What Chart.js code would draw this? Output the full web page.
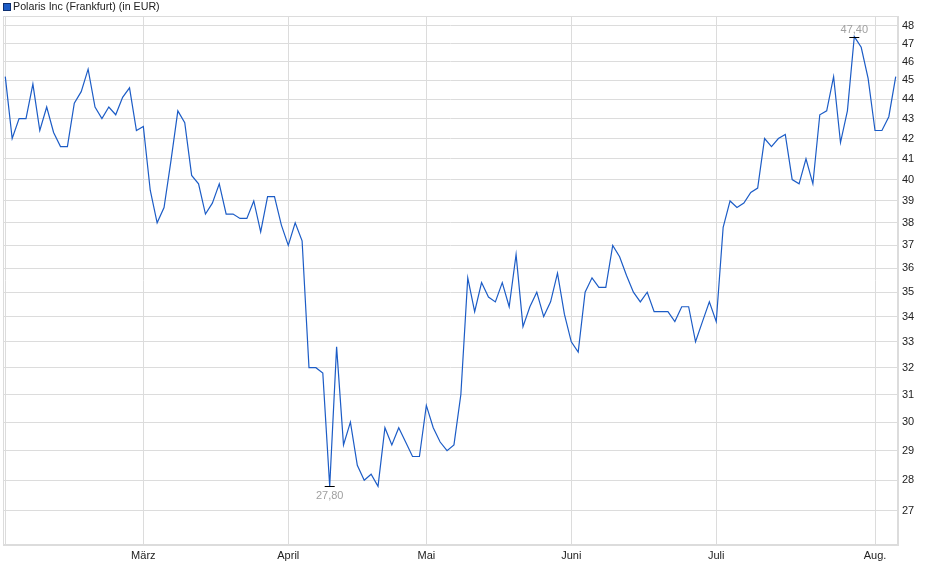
<!DOCTYPE html>
<html>
<head>
<meta charset="utf-8">
<script src="https://cdn.jsdelivr.net/npm/chart.js@4"></script>
<style>
	body { margin: 0; background: #fff; }
	canvas { display: block; }
</style>
</head>
<body>
<canvas id="chart" width="940" height="579"></canvas>
<script>
const seriesName = 'Polaris Inc (Frankfurt) (in EUR)';
const monthNames = ['', 'März', 'April', 'Mai', 'Juni', 'Juli', 'Aug.'];
const tradingDays = [20, 21, 20, 21, 21, 23, 4];
const priceTicks = [27, 28, 29, 30, 31, 32, 33, 34, 35, 36, 37, 38, 39, 40, 41, 42, 43, 44, 45, 46, 47, 48];
const prices = [
	45.2, 42.0, 43.0, 43.0, 44.8, 42.4, 43.6, 42.3, 41.6, 41.6,
	43.8, 44.4, 45.6, 43.6, 43.0, 43.6, 43.2, 44.1, 44.6, 42.4,
	42.6, 39.5, 38.0, 38.7, 40.9, 43.4, 42.8, 40.2, 39.8, 38.4,
	38.9, 39.8, 38.4, 38.4, 38.2, 38.2, 39.0, 37.6, 39.2, 39.2,
	37.9, 37.0, 38.0, 37.2, 32.0, 32.0, 31.8, 27.8, 32.8, 29.2,
	30.0, 28.5, 28.0, 28.2, 27.8, 29.8, 29.2, 29.8, 29.3, 28.8,
	28.8, 30.6, 29.8, 29.3, 29.0, 29.2, 31.0, 35.6, 34.2, 35.4,
	34.8, 34.6, 35.4, 34.4, 36.6, 33.6, 34.4, 35.0, 34.0, 34.6,
	35.8, 34.1, 33.0, 32.6, 35.0, 35.6, 35.2, 35.2, 37.0, 36.5,
	35.7, 35.0, 34.6, 35.0, 34.2, 34.2, 34.2, 33.8, 34.4, 34.4,
	33.0, 33.8, 34.6, 33.8, 37.8, 39.0, 38.7, 38.9, 39.4, 39.6,
	42.0, 41.6, 42.0, 42.2, 40.0, 39.8, 41.0, 39.8, 43.2, 43.4,
	45.2, 41.8, 43.4, 47.4, 46.8, 45.1, 42.4, 42.4, 43.1, 45.2
];

// first trading day of each month -> index on the x axis
const monthStarts = [];
tradingDays.reduce((start, n) => { monthStarts.push(start); return start + n; }, 0);

const lineColor = '#1c5cc6';
const gridColor = '#dcdcdc';
const fontFamily = '"Liberation Sans", Arial, sans-serif';

const fmt = v => v.toFixed(2).replace('.', ',');

const extras = {
	id: 'extras',
	beforeDatasetsDraw(chart) {
		const { ctx, chartArea: a } = chart;
		ctx.save();
		ctx.strokeStyle = gridColor;
		ctx.lineWidth = 1;
		ctx.strokeRect(a.left + 0.5, a.top + 0.5, a.width - 1, a.height - 1);
		ctx.restore();
	},
	afterDatasetsDraw(chart) {
		const { ctx, scales } = chart;
		const hi = prices.indexOf(Math.max(...prices));
		const lo = prices.indexOf(Math.min(...prices));
		ctx.save();
		ctx.font = '11px ' + fontFamily;
		ctx.textAlign = 'center';
		[[hi, true], [lo, false]].forEach(([i, top]) => {
			const x = scales.x.getPixelForValue(i);
			const y = Math.round(scales.y.getPixelForValue(prices[i])) + 0.5;
			ctx.strokeStyle = '#000';
			ctx.lineWidth = 1;
			ctx.beginPath();
			ctx.moveTo(x - 5, y);
			ctx.lineTo(x + 5, y);
			ctx.stroke();
			ctx.fillStyle = '#a0a0a0';
			ctx.textBaseline = top ? 'bottom' : 'top';
			ctx.fillText(fmt(prices[i]), x, top ? y - 2 : y + 4);
		});
		ctx.restore();
	},
	afterDraw(chart) {
		const { ctx } = chart;
		ctx.save();
		ctx.fillStyle = lineColor;
		ctx.fillRect(3, 3, 8, 8);
		ctx.strokeStyle = '#0d2f70';
		ctx.lineWidth = 1;
		ctx.strokeRect(3.5, 3.5, 7, 7);
		ctx.fillStyle = '#222';
		ctx.font = '10.7px ' + fontFamily;
		ctx.textBaseline = 'middle';
		ctx.textAlign = 'left';
		ctx.fillText(seriesName, 13, 7);
		ctx.restore();
	}
};

const data = {
	datasets: [{
		label: seriesName,
		data: prices.map((p, i) => ({ x: i, y: p })),
		borderColor: lineColor,
		borderWidth: 1.2,
		pointRadius: 0,
		tension: 0,
		fill: false
	}]
};

const config = {
	type: 'line',
	data,
	options: {
		responsive: false,
		devicePixelRatio: 1,
		animation: false,
		events: [],
		layout: { padding: { left: 3, right: 0, top: 16, bottom: 0 } },
		plugins: {
			legend: { display: false },
			tooltip: { enabled: false }
		},
		scales: {
			x: {
				type: 'linear',
				min: -0.33,
				max: prices.length - 1 + 0.33,
				afterBuildTicks: scale => {
					scale.ticks = monthStarts.map(v => ({ value: v }));
				},
				afterFit: scale => { scale.height = 34; },
				grid: { color: gridColor, drawTicks: false },
				border: { color: gridColor },
				ticks: {
					autoSkip: false,
					maxRotation: 0,
					padding: 4,
					color: '#222',
					font: { family: fontFamily, size: 11 },
					callback: value => monthNames[monthStarts.indexOf(value)]
				}
			},
			y: {
				type: 'logarithmic',
				position: 'right',
				min: 25.93,
				max: 48.57,
				afterBuildTicks: scale => {
					scale.ticks = priceTicks.map(v => ({ value: v }));
				},
				afterFit: scale => { scale.width = 42; },
				grid: { color: gridColor, drawTicks: false },
				border: { color: gridColor },
				ticks: {
					padding: 4,
					color: '#222',
					font: { family: fontFamily, size: 11 },
					callback: value => String(value)
				}
			}
		}
	},
	plugins: [extras]
};

new Chart(document.getElementById('chart'), config);
</script>
</body>
</html>
